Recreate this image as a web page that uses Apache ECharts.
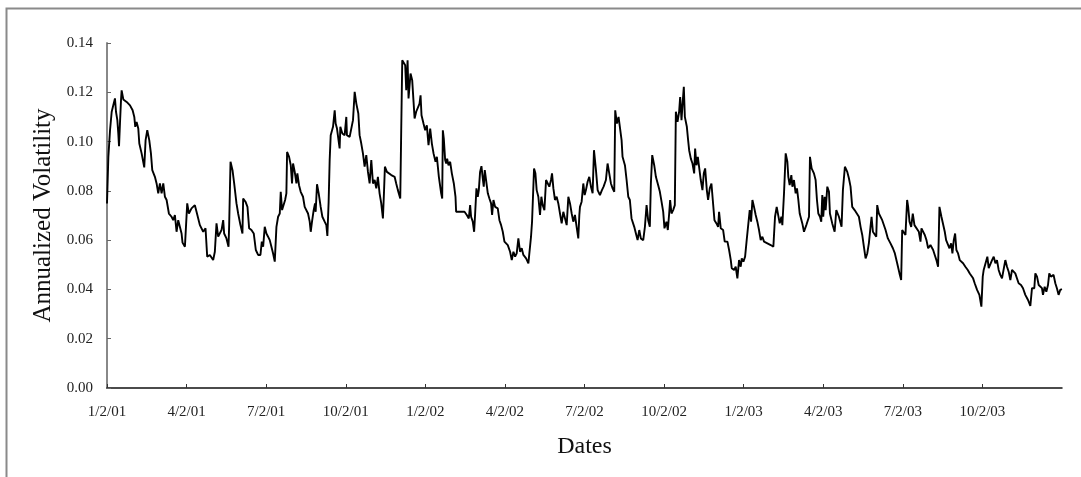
<!DOCTYPE html>
<html>
<head>
<meta charset="utf-8">
<script src="https://cdn.jsdelivr.net/npm/echarts@6/dist/echarts.min.js"></script>
<style>html,body{margin:0;padding:0;background:#fff;}#chart{width:1081px;height:477px;}</style>
</head>
<body>
<div id="chart"></div>
<script>
// x position in quarters since 1/2/01 (equal-spaced quarterly date axis)
const quarterPos = [
0,0.017,0.038,0.059,0.079,0.100,0.113,0.130,0.142,0.151,0.163,0.176,0.184,0.205,0.247,0.289,0.322,0.343,0.355,0.372,
0.393,0.406,0.435,0.468,0.485,0.506,0.531,0.552,0.569,0.590,0.602,0.623,0.644,0.665,0.686,0.707,0.728,0.749,0.778,0.811,
0.832,0.853,0.874,0.895,0.916,0.937,0.949,0.979,1.000,1.008,1.029,1.062,1.104,1.125,1.146,1.167,1.188,1.209,1.238,1.259,
1.292,1.313,1.334,1.355,1.376,1.397,1.418,1.439,1.460,1.472,1.501,1.527,1.535,1.552,1.577,1.598,1.627,1.648,1.677,1.702,
1.711,1.740,1.765,1.786,1.815,1.844,1.870,1.899,1.928,1.945,1.962,1.982,2.003,2.024,2.045,2.066,2.087,2.108,2.129,2.150,
2.171,2.183,2.200,2.221,2.238,2.254,2.263,2.288,2.309,2.325,2.338,2.359,2.380,2.392,2.413,2.434,2.463,2.484,2.505,2.526,
2.547,2.560,2.576,2.597,2.614,2.622,2.639,2.660,2.685,2.706,2.735,2.756,2.769,2.785,2.798,2.811,2.840,2.861,2.873,2.890,
2.911,2.923,2.932,2.957,2.986,3.007,3.015,3.049,
3.070,3.091,3.112,3.133,3.158,3.174,3.195,3.216,3.237,3.258,3.279,3.300,3.321,3.342,3.363,3.384,3.404,3.425,3.446,3.467,
3.480,3.492,3.517,3.542,3.572,3.614,3.634,3.655,3.685,3.697,3.710,3.726,3.747,3.760,3.777,3.789,3.814,3.835,3.852,3.865,
3.885,3.906,3.927,3.940,3.952,3.977,3.998,4.019,4.040,4.061,4.082,4.103,4.128,4.145,4.170,4.199,4.212,4.220,4.232,4.249,
4.262,4.274,4.291,4.312,4.333,4.358,4.379,4.387,4.429,4.492,4.521,4.546,4.563,4.575,4.596,4.613,4.626,4.642,4.659,4.672,
4.688,4.705,4.722,4.734,4.747,4.764,4.785,4.805,4.826,4.839,4.856,4.877,4.910,4.931,4.952,4.973,4.994,5.036,5.065,5.086,
5.107,5.128,5.148,5.169,5.190,5.211,5.232,5.266,5.295,5.307,5.328,5.341,5.358,5.366,5.383,5.399,5.420,5.441,5.458,5.475,
5.496,5.517,5.537,5.558,5.579,5.592,5.609,5.629,5.650,5.671,5.692,5.713,5.734,5.755,5.776,5.797,5.818,5.839,5.859,5.880,
5.901,5.922,5.935,
5.943,5.964,5.985,6.002,6.018,6.039,6.060,6.081,6.102,6.119,6.144,6.165,6.194,6.219,6.240,6.269,6.290,6.311,6.332,6.353,
6.374,6.386,6.407,6.428,6.445,6.466,6.478,6.508,6.529,6.550,6.570,6.591,6.625,6.646,6.667,6.688,6.708,6.738,6.759,6.780,
6.800,6.821,6.834,6.851,6.876,6.897,6.926,6.947,6.968,6.989,7.005,7.030,7.047,7.064,7.076,7.093,7.114,7.135,7.148,7.169,
7.189,7.202,7.219,7.231,7.248,7.261,7.286,7.302,7.315,7.336,7.357,7.378,7.390,7.407,7.424,7.440,7.461,7.482,7.499,7.516,
7.537,7.553,7.574,7.595,7.612,7.633,7.658,7.679,7.691,7.712,7.742,7.762,7.796,7.817,7.838,7.850,7.880,7.900,7.921,7.942,
7.963,7.976,7.997,8.018,8.038,8.059,8.076,8.093,8.110,8.130,8.151,8.172,8.193,8.214,8.235,8.256,8.298,8.340,8.373,8.394,
8.415,8.436,8.453,8.474,8.486,8.507,8.528,8.549,8.561,8.578,8.599,8.612,8.632,8.653,8.670,8.687,8.704,8.737,8.758,8.787,
8.821,
8.833,8.854,8.883,8.904,8.921,8.938,8.959,8.975,8.988,9.000,9.017,9.030,9.051,9.072,9.084,9.113,9.143,9.164,9.184,9.197,
9.218,9.230,9.247,9.272,9.302,9.323,9.343,9.364,9.394,9.419,9.448,9.469,9.490,9.511,9.532,9.553,9.573,9.594,9.607,9.624,
9.645,9.666,9.678,9.699,9.720,9.741,9.762,9.783,9.812,9.845,9.875,9.900,9.929,9.958,9.979,9.992,10.013,10.033,10.054,10.067,
10.084,10.105,10.125,10.146,10.171,10.201,10.222,10.234,10.255,10.276,10.297,10.318,10.347,10.368,10.381,10.401,10.422,10.443,10.460,10.485,
10.506,10.527,10.544,10.565,10.586,10.607,10.623,10.640,10.657,10.673,10.694,10.715,10.736,10.757,10.786,10.816,10.841,10.862,10.883,10.903,
10.933,10.962,10.987,11.004,11.016,11.037,11.062,11.079,11.100,11.121,11.142,11.163,11.183,11.204,11.225,11.246,11.267,11.288,11.309,11.330,
11.351,11.372,11.393,11.413,11.434,11.455,11.485,11.510,11.539,11.573,11.602,11.623,11.652,11.665,11.686,11.707,11.727,11.748,11.761,11.782,
11.803,11.824,11.840,11.861,11.882,11.894,11.916,11.936,11.957,11.978,11.999
];
const vol = [
0.0749,0.0938,0.1046,0.1121,0.1147,0.1175,0.1121,0.1087,0.1033,0.0981,0.1073,0.1168,0.1208,0.1171,0.1161,0.1147,0.1127,0.1100,0.1060,0.1080,
0.1053,0.0992,0.0952,0.0895,0.1006,0.1046,0.1006,0.0952,0.0884,0.0891,0.0857,0.0830,0.0790,0.0830,0.0790,0.0830,0.0776,0.0763,0.0708,0.0695,
0.0681,0.0702,0.0634,0.0681,0.0675,0.0627,0.0590,0.0573,0.0567,0.0749,0.0708,0.0729,0.0742,0.0715,0.0708,0.0661,0.0668,0.0634,0.0648,0.0533,
0.0540,0.0546,0.0519,0.0553,0.0668,0.0614,0.0621,0.0641,0.0681,0.0627,0.0607,0.0573,0.0661,0.0918,0.0884,0.0830,0.0749,0.0708,0.0661,0.0627,
0.0769,0.0756,0.0735,0.0648,0.0641,0.0627,0.0560,0.0540,0.0540,0.0594,0.0573,0.0654,0.0627,0.0614,0.0600,0.0573,0.0546,0.0513,0.0654,0.0695,
0.0708,0.0796,0.0722,0.0715,0.0763,0.0790,0.0958,0.0938,0.0904,0.0830,0.0911,0.0877,0.0830,0.0871,0.0823,0.0796,0.0776,0.0735,0.0729,0.0708,
0.0675,0.0634,0.0675,0.0722,0.0749,0.0715,0.0827,0.0790,0.0735,0.0695,0.0675,0.0661,0.0617,0.0756,0.0925,0.1026,0.1060,0.1127,0.1073,0.1053,
0.1046,0.0972,0.1060,0.1033,0.1026,0.1100,0.1026,0.1019,
0.1012,0.1087,0.1202,0.1154,0.1114,0.1026,0.0992,0.0952,0.0898,0.0945,0.0877,0.0830,0.0925,0.0830,0.0844,0.0810,0.0857,0.0790,0.0749,0.0688,
0.0790,0.0898,0.0877,0.0884,0.0864,0.0857,0.0830,0.0803,0.0769,0.1046,0.1330,0.1323,0.1310,0.1208,0.1330,0.1175,0.1276,0.1249,0.1161,0.1094,
0.1121,0.1114,0.1154,0.1188,0.1107,0.1073,0.1046,0.1066,0.0985,0.1053,0.0992,0.0952,0.0918,0.0938,0.0857,0.0790,0.0769,0.1046,0.1012,0.0925,
0.0911,0.0931,0.0904,0.0918,0.0871,0.0830,0.0776,0.0715,0.0715,0.0715,0.0702,0.0688,0.0742,0.0695,0.0675,0.0634,0.0708,0.0810,0.0776,0.0803,
0.0877,0.0900,0.0850,0.0817,0.0884,0.0891,0.0790,0.0769,0.0749,0.0702,0.0763,0.0735,0.0729,0.0681,0.0661,0.0634,0.0594,0.0580,0.0553,0.0519,
0.0553,0.0533,0.0546,0.0607,0.0553,0.0567,0.0540,0.0526,0.0506,0.0546,0.0614,0.0675,0.0681,0.0891,0.0871,0.0803,0.0776,0.0702,0.0776,0.0742,
0.0722,0.0844,0.0850,0.0817,0.0844,0.0871,0.0810,0.0763,0.0776,0.0749,0.0708,0.0668,0.0715,0.0722,0.0661,0.0776,0.0749,0.0708,0.0675,0.0702,
0.0654,0.0607,0.0702,
0.0735,0.0756,0.0830,0.0783,0.0803,0.0837,0.0857,0.0817,0.0790,0.0965,0.0884,0.0803,0.0783,0.0803,0.0817,0.0844,0.0911,0.0871,0.0830,0.0810,
0.0796,0.1127,0.1073,0.1100,0.1107,0.1006,0.0938,0.0904,0.0844,0.0776,0.0763,0.0688,0.0654,0.0627,0.0600,0.0641,0.0607,0.0600,0.0654,0.0742,
0.0681,0.0654,0.0830,0.0945,0.0904,0.0857,0.0823,0.0796,0.0756,0.0715,0.0648,0.0675,0.0641,0.0708,0.0763,0.0708,0.0722,0.0742,0.1121,0.1080,
0.1121,0.1181,0.1087,0.1147,0.1222,0.1100,0.1060,0.1006,0.0965,0.0931,0.0911,0.0871,0.0972,0.0904,0.0938,0.0931,0.0844,0.0803,0.0871,0.0891,
0.0803,0.0763,0.0810,0.0830,0.0763,0.0681,0.0668,0.0654,0.0715,0.0648,0.0641,0.0594,0.0594,0.0560,0.0519,0.0486,0.0479,0.0492,0.0445,0.0519,
0.0492,0.0526,0.0513,0.0533,0.0600,0.0607,0.0722,0.0675,0.0763,0.0735,0.0702,0.0675,0.0641,0.0600,0.0614,0.0594,0.0587,0.0580,0.0573,0.0695,
0.0735,0.0735,0.0668,0.0695,0.0661,0.0790,0.0952,0.0918,0.0857,0.0823,0.0864,0.0817,0.0844,0.0790,0.0810,0.0763,0.0708,0.0668,0.0634,0.0661,
0.0695,
0.0938,0.0891,0.0871,0.0844,0.0763,0.0708,0.0695,0.0675,0.0783,0.0695,0.0776,0.0722,0.0817,0.0796,0.0708,0.0668,0.0634,0.0722,0.0729,0.0695,
0.0702,0.0654,0.0803,0.0898,0.0877,0.0850,0.0817,0.0735,0.0722,0.0715,0.0695,0.0654,0.0621,0.0573,0.0526,0.0546,0.0587,0.0654,0.0695,0.0634,
0.0641,0.0614,0.0742,0.0708,0.0702,0.0681,0.0681,0.0641,0.0607,0.0587,0.0567,0.0546,0.0506,0.0465,0.0438,0.0641,0.0648,0.0621,0.0763,0.0735,
0.0675,0.0654,0.0708,0.0661,0.0668,0.0634,0.0594,0.0648,0.0641,0.0621,0.0600,0.0567,0.0580,0.0587,0.0560,0.0540,0.0519,0.0492,0.0735,0.0695,
0.0688,0.0634,0.0600,0.0594,0.0567,0.0587,0.0546,0.0600,0.0627,0.0560,0.0546,0.0519,0.0526,0.0506,0.0492,0.0479,0.0465,0.0459,0.0445,0.0425,
0.0398,0.0378,0.0330,0.0452,0.0479,0.0486,0.0533,0.0486,0.0492,0.0519,0.0533,0.0506,0.0519,0.0479,0.0459,0.0445,0.0438,0.0519,0.0492,0.0472,
0.0438,0.0479,0.0486,0.0465,0.0472,0.0425,0.0418,0.0405,0.0378,0.0357,0.0333,0.0405,0.0405,0.0465,0.0452,0.0418,0.0411,0.0405,0.0378,0.0411,
0.0391,0.0418,0.0465,0.0452,0.0445,0.0459,0.0425,0.0405,0.0378,0.0398,0.0401
];
const tickLabels = ['1/2/01','4/2/01','7/2/01','10/2/01','1/2/02','4/2/02','7/2/02','10/2/02','1/2/03','4/2/03','7/2/03','10/2/03'];
const xTickValues = tickLabels.map((_, i) => i);
const xAxisTitle = 'Dates';
const yAxisTitle = 'Annualized Volatility';

const seriesData = quarterPos.map((q, i) => [q, vol[i]]);
const serif = "'Liberation Serif', 'DejaVu Serif', serif";

const chart = echarts.init(document.getElementById('chart'), null, {renderer: 'canvas'});
chart.setOption({
  animation: false,
  backgroundColor: '#ffffff',
  graphic: [{
    type: 'rect', silent: true, z: -1,
    shape: {x: 6.5, y: 8.5, width: 1200, height: 600},
    style: {fill: 'none', stroke: '#8a8a8a', lineWidth: 2}
  }],
  grid: {left: 107, right: 19, top: 43, bottom: 89, containLabel: false},
  xAxis: {
    type: 'value', min: 0, max: 12, interval: 1,
    name: xAxisTitle, nameLocation: 'middle', nameGap: 47,
    nameTextStyle: {fontFamily: serif, fontSize: 24, color: '#111'},
    axisLine: {show: true, onZero: false, lineStyle: {color: '#111', width: 1.5}},
    axisTick: {show: true, inside: true, length: 4, customValues: xTickValues, lineStyle: {color: '#333', width: 1}},
    axisLabel: {
      customValues: xTickValues, margin: 17,
      fontFamily: serif, fontSize: 15, color: '#222',
      formatter: v => tickLabels[Math.round(v)] || ''
    },
    splitLine: {show: false}
  },
  yAxis: {
    type: 'value', min: 0, max: 0.14, interval: 0.02,
    name: yAxisTitle, nameLocation: 'middle', nameGap: 50, nameRotate: 90,
    nameTextStyle: {fontFamily: serif, fontSize: 25, color: '#111'},
    axisLine: {show: true, lineStyle: {color: '#888', width: 2}},
    axisTick: {show: true, inside: true, length: 4, lineStyle: {color: '#666', width: 1}},
    axisLabel: {margin: 14, fontFamily: serif, fontSize: 15, color: '#222', formatter: v => v.toFixed(2)},
    splitLine: {show: false}
  },
  series: [{
    type: 'line', data: seriesData, showSymbol: false, smooth: false,
    lineStyle: {color: '#000', width: 1.9}, z: 3
  }]
});
</script>
</body>
</html>
